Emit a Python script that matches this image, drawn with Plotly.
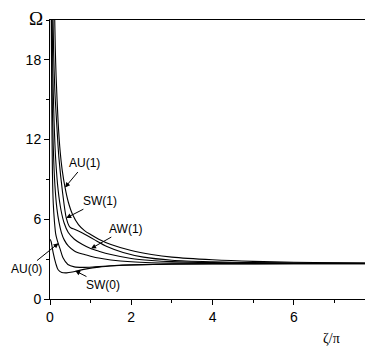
import plotly.graph_objects as go

# ---- data ----
au1_x = [0.11, 0.13, 0.15, 0.2, 0.25, 0.3, 0.37, 0.45, 0.55, 0.7, 0.85, 1.0, 1.2, 1.5, 2.0, 2.5, 3.0, 4.0, 5.0, 6.0, 7.0, 8.0]
au1_y = [22.0, 18.9, 16.8, 13.3, 11.1, 9.7, 8.4, 7.3, 6.4, 5.6, 5.15, 4.85, 4.5, 4.1, 3.65, 3.35, 3.15, 2.95, 2.83, 2.77, 2.73, 2.71]

sw1_x = [0.07, 0.09, 0.12, 0.165, 0.22, 0.31, 0.4, 0.47, 0.52, 0.6, 0.75, 0.9, 1.1, 1.4, 1.8, 2.3, 3.0, 4.0, 5.0, 6.0, 7.0, 8.0]
sw1_y = [22.0, 18.5, 15.6, 13.2, 10.6, 8.0, 6.1, 5.5, 5.35, 5.25, 5.05, 4.8, 4.45, 3.95, 3.5, 3.15, 2.92, 2.8, 2.74, 2.71, 2.7, 2.69]

aw1_x = [0.05, 0.07, 0.1, 0.14, 0.2, 0.27, 0.35, 0.45, 0.6, 0.8, 1.0, 1.2, 1.5, 2.0, 2.5, 3.0, 4.0, 5.0, 6.0, 7.0, 8.0]
aw1_y = [22.0, 17.0, 13.4, 10.5, 8.2, 6.7, 5.7, 5.0, 4.5, 4.1, 3.8, 3.6, 3.35, 3.05, 2.9, 2.81, 2.74, 2.71, 2.69, 2.68, 2.68]

aw0_x = [0.035, 0.05, 0.08, 0.12, 0.17, 0.22, 0.28, 0.35, 0.45, 0.6, 0.8, 1.0, 1.2, 1.5, 2.0, 2.5, 3.0, 4.0, 5.0, 6.0, 7.0, 8.0]
aw0_y = [22.0, 16.0, 11.5, 8.6, 6.8, 5.8, 5.0, 4.45, 4.0, 3.62, 3.38, 3.22, 3.08, 2.94, 2.8, 2.73, 2.7, 2.68, 2.67, 2.67, 2.67, 2.67]

au0_x = [0.03, 0.045, 0.06, 0.08, 0.11, 0.14, 0.17, 0.2, 0.25, 0.32, 0.44, 0.6, 0.8, 1.1, 1.5, 2.0, 3.0, 4.0, 6.0, 8.0]
au0_y = [22.0, 14.0, 9.5, 7.2, 5.8, 4.9, 4.5, 4.2, 3.75, 3.1, 2.6, 2.42, 2.38, 2.42, 2.5, 2.57, 2.63, 2.65, 2.66, 2.66]

sw0_x = [0.0, 0.025, 0.08, 0.14, 0.2, 0.29, 0.41, 0.55, 0.7, 0.9, 1.2, 1.6, 2.0, 3.0, 4.0, 6.0, 8.0]
sw0_y = [4.5, 4.35, 3.45, 2.7, 2.2, 2.0, 1.97, 2.03, 2.14, 2.27, 2.4, 2.5, 2.56, 2.62, 2.64, 2.65, 2.65]

series = [
    ("AU(1)", au1_x, au1_y),
    ("SW(1)", sw1_x, sw1_y),
    ("AW(1)", aw1_x, aw1_y),
    ("AW(0)", aw0_x, aw0_y),
    ("AU(0)", au0_x, au0_y),
    ("SW(0)", sw0_x, sw0_y),
]

# labels: (text, tip_x, tip_y, label_x, label_y)
labels = [
    ("AU(1)", 0.37, 8.4, 0.86, 10.2),
    ("SW(1)", 0.40, 6.1, 1.23, 7.4),
    ("AW(1)", 1.01, 3.8, 1.88, 5.3),
    ("AU(0)", 0.21, 4.2, -0.58, 2.25),
    ("SW(0)", 0.62, 2.12, 1.31, 1.05),
]

x_ticks = [0, 2, 4, 6]
y_ticks = [0, 6, 12, 18]

fig = go.Figure()
for name, xs, ys in series:
    fig.add_trace(go.Scatter(x=xs, y=ys, mode="lines", name=name,
                             line=dict(color="black", width=1.1, shape="spline", smoothing=0.8),
                             showlegend=False))

for text, tx, ty, lx, ly in labels:
    fig.add_annotation(x=tx, y=ty, ax=lx, ay=ly, axref="x", ayref="y", xref="x", yref="y",
                       text=text, showarrow=True, arrowhead=2, arrowsize=1, arrowwidth=1,
                       arrowcolor="black", standoff=0,
                       font=dict(family="Liberation Sans, Arial", size=12, color="black"))

# page has an 8px body margin; figure is sized/placed to compensate
fig.add_annotation(xref="paper", yref="paper", x=-0.043, y=1.006, xanchor="center", yanchor="middle",
                   text="Ω", showarrow=False,
                   font=dict(family="Liberation Serif, Times New Roman", size=19, color="black"))
fig.add_annotation(xref="paper", yref="paper", x=0.873, y=-0.14, xanchor="center", yanchor="middle",
                   text="ζ/π", showarrow=False,
                   font=dict(family="Liberation Serif, Times New Roman", size=14, color="black"))

fig.update_layout(
    width=365, height=340,
    margin=dict(l=42, r=0, t=12, b=49),
    paper_bgcolor="white", plot_bgcolor="white",
    font=dict(family="Liberation Sans, Arial", size=14, color="black"),
)
fig.update_xaxes(range=[0, 7.95], tickvals=x_ticks, ticks="outside", ticklen=5, tickwidth=1,
                 tickcolor="black", showline=True, linecolor="black", linewidth=1, mirror=True,
                 showgrid=False, zeroline=False,
                 minor=dict(dtick=1, tick0=0, ticks="outside", ticklen=3, tickcolor="black", showgrid=False))
fig.update_yaxes(range=[0, 21], tickvals=y_ticks, ticks="outside", ticklen=5, tickwidth=1,
                 tickcolor="black", showline=True, linecolor="black", linewidth=1,
                 showgrid=False, zeroline=False,
                 minor=dict(dtick=3, tick0=0, ticks="outside", ticklen=3, tickcolor="black", showgrid=False))

fig.write_html("out.html")
